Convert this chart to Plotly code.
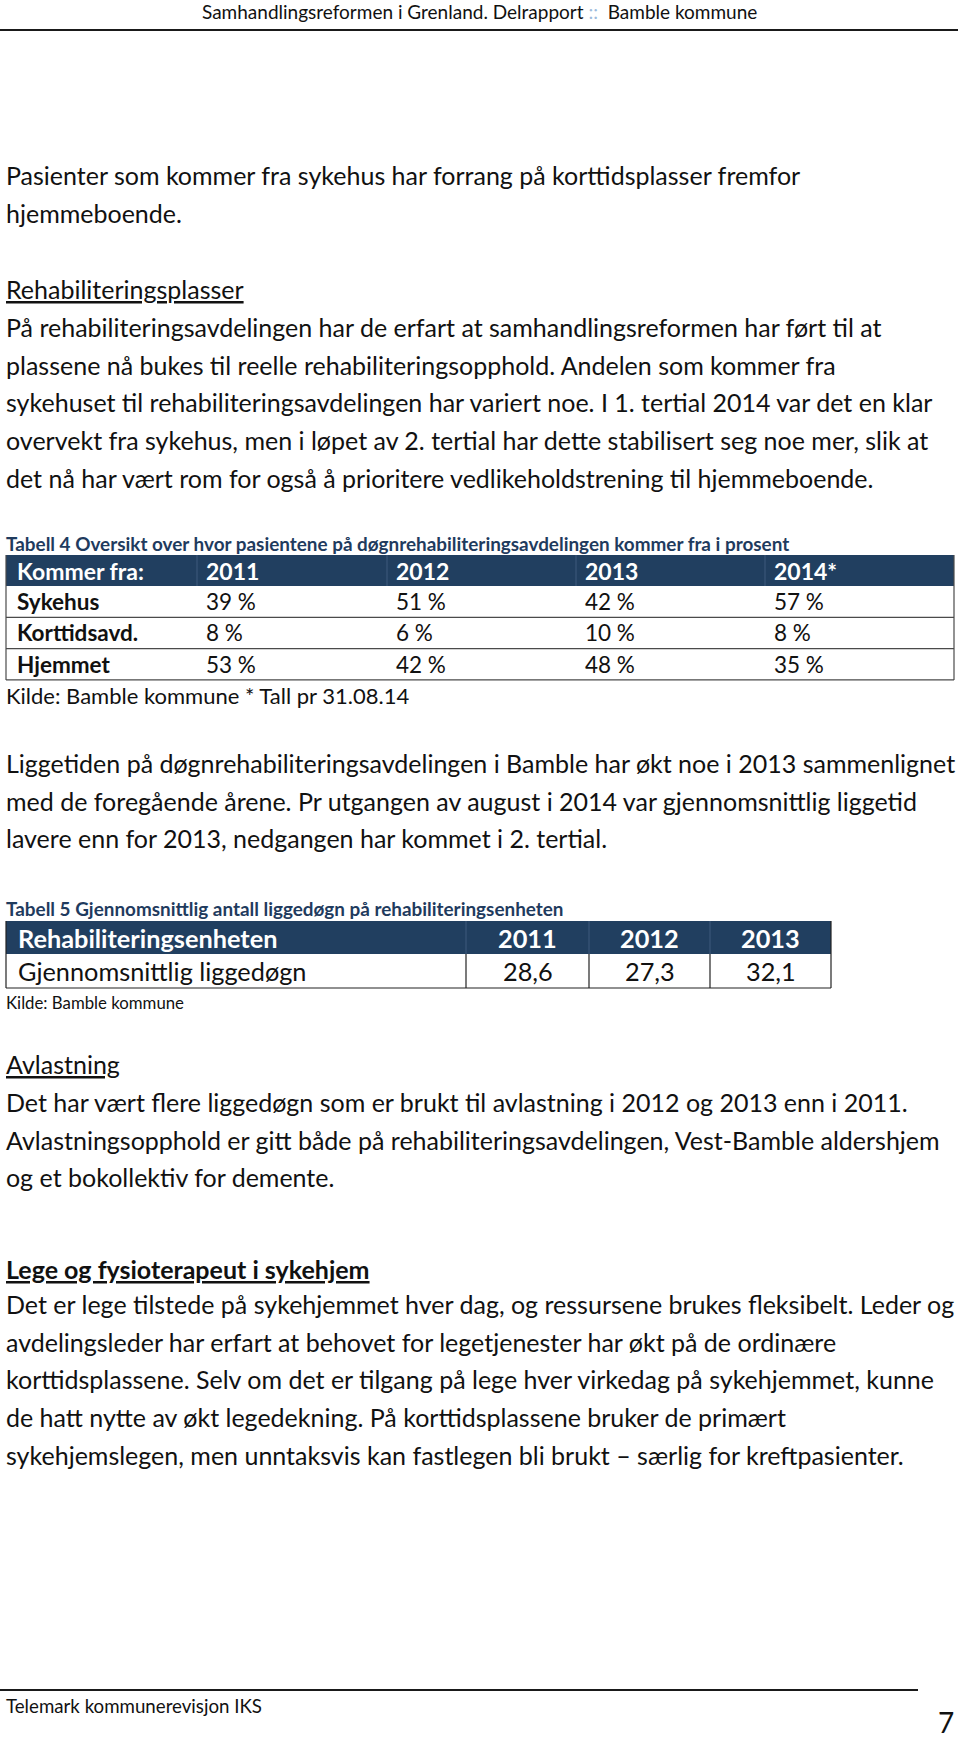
import plotly.graph_objects as go

# ---------------- data ----------------
header_left = "Samhandlingsreformen i Grenland. Delrapport"
header_right = "Bamble kommune"

para1 = ["Pasienter som kommer fra sykehus har forrang på korttidsplasser fremfor",
         "hjemmeboende."]
head_rehab = "Rehabiliteringsplasser"
para2 = ["På rehabiliteringsavdelingen har de erfart at samhandlingsreformen har ført til at",
         "plassene nå bukes til reelle rehabiliteringsopphold. Andelen som kommer fra",
         "sykehuset til rehabiliteringsavdelingen har variert noe. I 1. tertial 2014 var det en klar",
         "overvekt fra sykehus, men i løpet av 2. tertial har dette stabilisert seg noe mer, slik at",
         "det nå har vært rom for også å prioritere vedlikeholdstrening til hjemmeboende."]

caption4 = "Tabell 4 Oversikt over hvor pasientene på døgnrehabiliteringsavdelingen kommer fra i prosent"
t4_corner = "Kommer fra:"
t4_years = ["2011", "2012", "2013", "2014*"]
t4_rows = ["Sykehus", "Korttidsavd.", "Hjemmet"]
t4_sykehus = [39, 51, 42, 57]
t4_korttid = [8, 6, 10, 8]
t4_hjemmet = [53, 42, 48, 35]
source4 = "Kilde: Bamble kommune * Tall pr 31.08.14"

para3 = ["Liggetiden på døgnrehabiliteringsavdelingen i Bamble har økt noe i 2013 sammenlignet",
         "med de foregående årene. Pr utgangen av august i 2014 var gjennomsnittlig liggetid",
         "lavere enn for 2013, nedgangen har kommet i 2. tertial."]

caption5 = "Tabell 5 Gjennomsnittlig antall liggedøgn på rehabiliteringsenheten"
t5_corner = "Rehabiliteringsenheten"
t5_years = ["2011", "2012", "2013"]
t5_label = "Gjennomsnittlig liggedøgn"
t5_values = [28.6, 27.3, 32.1]
source5 = "Kilde: Bamble kommune"

head_avl = "Avlastning"
para4 = ["Det har vært flere liggedøgn som er brukt til avlastning i 2012 og 2013 enn i 2011.",
         "Avlastningsopphold er gitt både på rehabiliteringsavdelingen, Vest-Bamble aldershjem",
         "og et bokollektiv for demente."]

head_lege = "Lege og fysioterapeut i sykehjem"
para5 = ["Det er lege tilstede på sykehjemmet hver dag, og ressursene brukes fleksibelt. Leder og",
         "avdelingsleder har erfart at behovet for legetjenester har økt på de ordinære",
         "korttidsplassene. Selv om det er tilgang på lege hver virkedag på sykehjemmet, kunne",
         "de hatt nytte av økt legedekning. På korttidsplassene bruker de primært",
         "sykehjemslegen, men unntaksvis kan fastlegen bli brukt – særlig for kreftpasienter."]

footer_text = "Telemark kommunerevisjon IKS"
page_no = "7"

# ---------------- styling ----------------
FONT = "Lato"
BODY = 25
NAVY = "#213F60"
CAPC = "#1F3B5E"
W, H = 960, 1745
LH = 37.7

fig = go.Figure()
fig.add_trace(go.Scatter(x=[], y=[], showlegend=False))

ann = []
shapes = []


def text(x, y, s, size=BODY, color="#111111", anchor="left", bold=False):
    if bold:
        s = "<b>" + s + "</b>"
    ann.append(dict(x=x, y=y, xref="x", yref="y", text=s, showarrow=False,
                    xanchor=anchor, yanchor="middle",
                    font=dict(family=FONT, size=size, color=color)))


def line(x0, y0, x1, y1, color="#222222", width=1):
    shapes.append(dict(type="line", xref="x", yref="y", x0=x0, y0=y0, x1=x1, y1=y1,
                       line=dict(color=color, width=width)))


def rect(x0, y0, x1, y1, fill):
    shapes.append(dict(type="rect", xref="x", yref="y", x0=x0, y0=y0, x1=x1, y1=y1,
                       fillcolor=fill, line=dict(width=0), layer="below"))


# page header
text(479, 11, header_left + " <span style='color:#9DBBDC'>::</span>  " + header_right,
     size=19, anchor="center")
line(0, 30, 958, 30, color="#1a1a1a", width=2)

X0 = 4
for i, s in enumerate(para1):
    text(X0, 175 + i * LH, s)
text(X0, 289, "<u>" + head_rehab + "</u>")
for i, s in enumerate(para2):
    text(X0, 327 + i * LH, s)

# ---------------- Table 4 ----------------
text(X0, 543, caption4, size=18.9, color=CAPC, bold=True)
t4_x = [6, 197, 387, 576, 765, 954]
t4_top, t4_hdr_bot = 555, 586
t4_row_h = 31.3
rect(t4_x[0], t4_top, t4_x[-1], t4_hdr_bot, NAVY)
for xd in t4_x[1:-1]:
    line(xd, t4_top, xd, t4_hdr_bot, color="#3E5A7C", width=1)
text(t4_x[0] + 9, (t4_top + t4_hdr_bot) / 2, t4_corner, size=23, color="white", bold=True)
for j, yr in enumerate(t4_years):
    text(t4_x[j + 1] + 7, (t4_top + t4_hdr_bot) / 2, yr, size=23, color="white", bold=True)
t4_vals = [t4_sykehus, t4_korttid, t4_hjemmet]
for i, (lab, vals) in enumerate(zip(t4_rows, t4_vals)):
    y0 = t4_hdr_bot + i * t4_row_h
    y1 = y0 + t4_row_h
    text(t4_x[0] + 9, (y0 + y1) / 2, lab, size=22.5, color="#111111", bold=True)
    for j, v in enumerate(vals):
        text(t4_x[j + 1] + 7, (y0 + y1) / 2, f"{v} %", size=22.5)
    line(t4_x[0], y1, t4_x[-1], y1, color="#4a4a4a", width=1.2)
t4_bot = t4_hdr_bot + len(t4_rows) * t4_row_h
line(t4_x[0], t4_top, t4_x[0], t4_bot, color="#4a4a4a", width=1.2)
line(t4_x[-1], t4_top, t4_x[-1], t4_bot, color="#4a4a4a", width=1.2)
text(X0, 695, source4, size=22)

for i, s in enumerate(para3):
    text(X0, 763 + i * LH, s)

# ---------------- Table 5 ----------------
text(X0, 908, caption5, size=18.9, color=CAPC, bold=True)
t5_x = [6, 466, 589, 710, 831]
t5_top, t5_hdr_bot, t5_bot = 921, 954, 988
rect(t5_x[0], t5_top, t5_x[-1], t5_hdr_bot, NAVY)
text(t5_x[0] + 10, (t5_top + t5_hdr_bot) / 2, t5_corner, size=25.3, color="white", bold=True)
for j, yr in enumerate(t5_years):
    text((t5_x[j + 1] + t5_x[j + 2]) / 2, (t5_top + t5_hdr_bot) / 2, yr, size=25.3,
         color="white", bold=True, anchor="center")
text(t5_x[0] + 10, (t5_hdr_bot + t5_bot) / 2, t5_label, size=25.3)
for j, v in enumerate(t5_values):
    text((t5_x[j + 1] + t5_x[j + 2]) / 2, (t5_hdr_bot + t5_bot) / 2,
         f"{v:.1f}".replace(".", ","), size=25.3, anchor="center")
for xd in t5_x[1:-1]:
    line(xd, t5_top, xd, t5_hdr_bot, color="#3E5A7C", width=1)
    line(xd, t5_hdr_bot, xd, t5_bot, color="#222222", width=1.2)
line(t5_x[0], t5_bot, t5_x[-1], t5_bot, color="#222222", width=1.2)
line(t5_x[0], t5_top, t5_x[0], t5_bot, color="#222222", width=1.2)
line(t5_x[-1], t5_top, t5_x[-1], t5_bot, color="#222222", width=1.2)
text(X0, 1002, source5, size=16.8)

text(X0, 1064, "<u>" + head_avl + "</u>")
for i, s in enumerate(para4):
    text(X0, 1102 + i * LH, s)

text(X0, 1269, "<u><b>" + head_lege + "</b></u>")
for i, s in enumerate(para5):
    text(X0, 1304 + i * LH, s)

# footer
line(0, 1690, 918, 1690, color="#1a1a1a", width=2)
text(X0, 1706, footer_text, size=18.7)
text(946, 1722, page_no, size=28, anchor="center")

fig.update_layout(
    width=W, height=H,
    margin=dict(l=0, r=0, t=0, b=0),
    paper_bgcolor="white", plot_bgcolor="white",
    xaxis=dict(range=[0, W], visible=False, fixedrange=True),
    yaxis=dict(range=[H, 0], visible=False, fixedrange=True),
    annotations=ann, shapes=shapes, showlegend=False,
)
fig.write_html("out.html", config={"displayModeBar": False},
               post_script="document.body.style.margin='0px';document.body.style.overflow='hidden';")
